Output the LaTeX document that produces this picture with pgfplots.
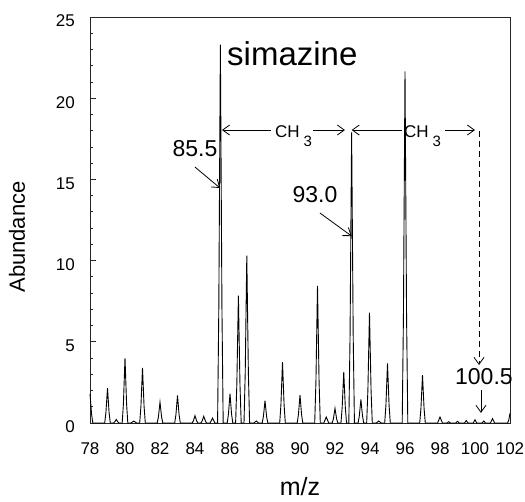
\documentclass[border=0pt]{standalone}
\usepackage{fontspec}
\setmainfont{Liberation Sans}
\usepackage{pgfplots}
\pgfplotsset{compat=1.18}
\usetikzlibrary{arrows.meta}
\begin{document}
\begin{tikzpicture}
\useasboundingbox (-90bp,-79bp) rectangle (435bp,423bp);
\begin{axis}[
  scale only axis, width=420bp, height=406bp,
  xmin=78, xmax=102, ymin=0, ymax=25,
  xtick={78,80,...,102}, ytick={0,5,...,25},
  minor y tick num=4,
  axis line style={line width=0.8bp, black!85},
  xtick style={draw=none},
  ytick pos=left, tick align=inside,
  major tick length=6bp, minor tick length=3.5bp,
  every tick/.style={black!85, line width=0.8bp},
  /pgf/number format/assume math mode=true,
  tick label style={font=\fontsize{17bp}{19bp}\selectfont},
  xticklabel style={inner sep=0pt, anchor=north, yshift=-19bp},
  yticklabel style={inner sep=0pt, anchor=east, xshift=-15bp, yshift=-4bp},
  clip=false,
]
\addplot[black, line width=0.9bp, mark=none] coordinates {
(78,1.8) (78.09,0.54) (78.16,0)
(78.84,0) (78.91,0.65) (79,2.15) (79.09,0.65) (79.16,0)
(79.34,0) (79.41,0.07) (79.5,0.22) (79.59,0.07) (79.66,0)
(79.84,0) (79.91,1.2) (80,4.0) (80.09,1.2) (80.16,0)
(80.34,0) (80.5,0.12) (80.66,0)
(80.84,0) (80.91,1.02) (81,3.4) (81.09,1.02) (81.16,0)
(81.84,0) (81.91,0.38) (82,1.28) (82.09,0.38) (82.16,0)
(82.84,0) (82.91,0.51) (83,1.7) (83.09,0.51) (83.16,0)
(83.84,0) (83.91,0.14) (84,0.45) (84.09,0.14) (84.16,0)
(84.34,0) (84.41,0.13) (84.5,0.42) (84.59,0.13) (84.66,0)
(84.86,0) (85,0.3) (85.14,0)
(85.29,0) (85.36,7.0) (85.45,23.3) (85.54,7.0) (85.61,0)
(85.84,0) (85.91,0.54) (86,1.8) (86.09,0.54) (86.16,0)
(86.32,0) (86.39,2.36) (86.48,7.85) (86.57,2.36) (86.64,0)
(86.8,0) (86.87,3.09) (86.96,10.3) (87.05,3.09) (87.12,0)
(87.36,0) (87.5,0.12) (87.64,0)
(87.84,0) (87.91,0.41) (88,1.38) (88.09,0.41) (88.16,0)
(88.84,0) (88.91,1.13) (89,3.75) (89.09,1.13) (89.16,0)
(89.84,0) (89.91,0.52) (90,1.72) (90.09,0.52) (90.16,0)
(90.84,0) (90.91,2.54) (91,8.45) (91.09,2.54) (91.16,0)
(91.36,0) (91.5,0.37) (91.64,0)
(91.84,0) (91.91,0.27) (92,0.9) (92.09,0.27) (92.16,0)
(92.34,0) (92.41,0.95) (92.5,3.15) (92.59,0.95) (92.66,0)
(92.79,0) (92.86,5.37) (92.95,17.9) (93.04,5.37) (93.11,0)
(93.32,0) (93.39,0.44) (93.48,1.45) (93.57,0.44) (93.64,0)
(93.81,0) (93.88,2.04) (93.97,6.8) (94.06,2.04) (94.13,0)
(94.36,0) (94.5,0.12) (94.64,0)
(94.84,0) (94.91,1.1) (95,3.67) (95.09,1.1) (95.16,0)
(95.84,0) (95.91,6.5) (96,21.65) (96.09,6.5) (96.16,0)
(96.84,0) (96.91,0.89) (97,2.95) (97.09,0.89) (97.16,0)
(97.86,0) (98,0.37) (98.14,0)
(98.4,0) (98.5,0.08) (98.6,0)
(98.9,0) (99,0.1) (99.1,0)
(99.4,0) (99.5,0.15) (99.6,0)
(99.9,0) (100,0.2) (100.1,0)
(100.4,0) (100.5,0.12) (100.6,0)
(100.88,0) (101,0.27) (101.12,0)
(101.86,0) (101.93,0.18) (102,0.6)
};
% labels
\node[anchor=base west, inner sep=0pt, font=\fontsize{33bp}{36bp}\selectfont] at (axis cs:85.83,22.04) {simazine};
\node[anchor=base west, inner sep=0pt, font=\fontsize{17bp}{18bp}\selectfont] at (axis cs:88.57,17.55) {CH\hspace{4bp}\raisebox{-9bp}{\fontsize{15bp}{16bp}\selectfont 3}};
\node[anchor=base west, inner sep=0pt, font=\fontsize{17bp}{18bp}\selectfont] at (axis cs:95.94,17.55) {CH\hspace{4bp}\raisebox{-9bp}{\fontsize{15bp}{16bp}\selectfont 3}};
\draw[line width=0.8bp, -{Straight Barb[length=7bp,width=10bp]}] (axis cs:88.35,18.04) -- (axis cs:85.54,18.04);
\draw[line width=0.8bp, -{Straight Barb[length=7bp,width=10bp]}] (axis cs:90.74,18.04) -- (axis cs:92.57,18.04);
\draw[line width=0.8bp, -{Straight Barb[length=7bp,width=10bp]}] (axis cs:95.83,18.04) -- (axis cs:92.95,18.04);
\draw[line width=0.8bp, -{Straight Barb[length=7bp,width=10bp]}] (axis cs:98.29,18.04) -- (axis cs:100.0,18.04);
\draw[line width=0.8bp, dash pattern=on 6bp off 4bp, -{Straight Barb[length=7bp,width=10bp]}] (axis cs:100.23,17.98) -- (axis cs:100.23,3.57);
\node[inner sep=0pt, font=\fontsize{23bp}{25bp}\selectfont] at (axis cs:84.0,16.87) {85.5};
\draw[line width=0.8bp, -{Straight Barb[length=7bp,width=10bp]}] (axis cs:84.0,15.76) -- (axis cs:85.43,14.47);
\node[inner sep=0pt, font=\fontsize{23bp}{25bp}\selectfont] at (axis cs:90.86,14.04) {93.0};
\draw[line width=0.8bp, -{Straight Barb[length=7bp,width=10bp]}] (axis cs:91.14,12.93) -- (axis cs:92.95,11.51);
\node[inner sep=0pt, font=\fontsize{23bp}{25bp}\selectfont] at (axis cs:100.51,2.83) {100.5};
\draw[line width=0.8bp, -{Straight Barb[length=7bp,width=10bp]}] (axis cs:100.34,2.03) -- (axis cs:100.34,0.62);
% axis titles
\node[anchor=base, inner sep=0pt, font=\fontsize{25bp}{27bp}\selectfont] at ([yshift=-72bp]rel axis cs:0.5,0) {m/z};
\node[rotate=90, inner sep=0pt, font=\fontsize{22bp}{24bp}\selectfont] at ([xshift=-73bp,yshift=-17bp]rel axis cs:0,0.5) {Abundance};
\end{axis}
\end{tikzpicture}
\end{document}
